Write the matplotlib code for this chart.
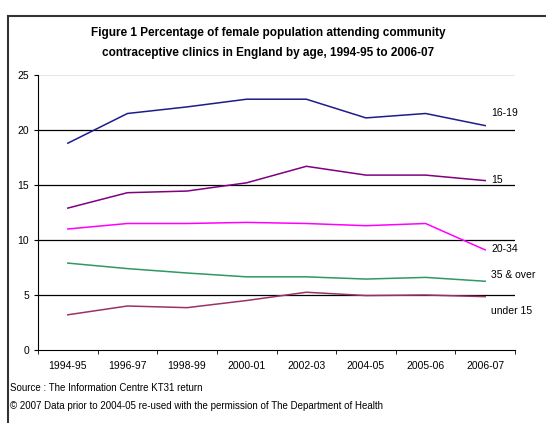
import matplotlib.pyplot as plt
import numpy as np

plt.rcParams['font.family'] = ['Liberation Sans Narrow', 'Liberation Sans', 'DejaVu Sans']

years = ["1994-95", "1996-97", "1998-99", "2000-01", "2002-03", "2004-05", "2005-06", "2006-07"]
age_16_19 = [18.8, 21.5, 22.1, 22.8, 22.8, 21.1, 21.5, 20.4]
age_15 = [12.9, 14.3, 14.45, 15.2, 16.7, 15.9, 15.9, 15.4]
age_20_34 = [11.0, 11.5, 11.5, 11.6, 11.5, 11.3, 11.5, 9.1]
age_35_over = [7.9, 7.4, 7.0, 6.65, 6.65, 6.45, 6.6, 6.25]
under_15 = [3.2, 4.0, 3.85, 4.5, 5.25, 4.95, 5.0, 4.85]

series = [
    (age_16_19, "#1c1c8c", "16-19", 21.5),
    (age_15, "#800080", "15", 15.45),
    (age_20_34, "#ff00ff", "20-34", 9.2),
    (age_35_over, "#2e9960", "35 & over", 6.85),
    (under_15, "#993366", "under 15", 3.5),
]

fig = plt.figure(figsize=(5.46, 4.23), dpi=100)
ax = fig.add_axes([38/546, 1-350/423, (515-38)/546, 275/423])

x = np.arange(len(years))
for vals, col, lab, ly in series:
    ax.plot(x, vals, color=col, lw=1.1)
    ax.text(7.1, ly, lab, fontsize=7.5, va='center', ha='left')

ax.set_xlim(-0.5, 7.5)
ax.set_ylim(0, 25)
ax.set_yticks([0, 5, 10, 15, 20, 25])
ax.set_xticks(x)
ax.set_xticklabels(years, fontsize=7.5)
ax.set_xticks(np.arange(-0.5, 8, 1), minor=True)
ax.tick_params(axis='x', which='major', length=0, pad=8)
ax.tick_params(axis='x', which='minor', length=3, direction='out')
ax.tick_params(axis='y', labelsize=7.5, length=3)
for v in [5, 10, 15, 20]:
    ax.axhline(v, color='black', lw=0.9, zorder=0)
ax.axhline(25, color='#e6e6e6', lw=0.8, zorder=0)
ax.spines['right'].set_visible(False)
ax.spines['top'].set_visible(False)

fig.text(268/546, 1-33/423, "Figure 1 Percentage of female population attending community",
         ha='center', va='center', fontsize=8.5, fontweight='bold')
fig.text(268/546, 1-53/423, "contraceptive clinics in England by age, 1994-95 to 2006-07",
         ha='center', va='center', fontsize=8.5, fontweight='bold')
fig.text(10/546, 1-388/423, "Source : The Information Centre KT31 return", fontsize=7, va='center')
fig.text(10/546, 1-406/423, "\u00a9 2007 Data prior to 2004-05 re-used with the permission of The Department of Health",
         fontsize=7, va='center')

# outer frame
fig.add_artist(plt.Line2D([8/546, 1], [1-16/423, 1-16/423], color='#333333', lw=1.5, transform=fig.transFigure))
fig.add_artist(plt.Line2D([8/546, 8/546], [1-16/423, 0], color='#333333', lw=1.5, transform=fig.transFigure))

fig.savefig("out.png", dpi=100)
